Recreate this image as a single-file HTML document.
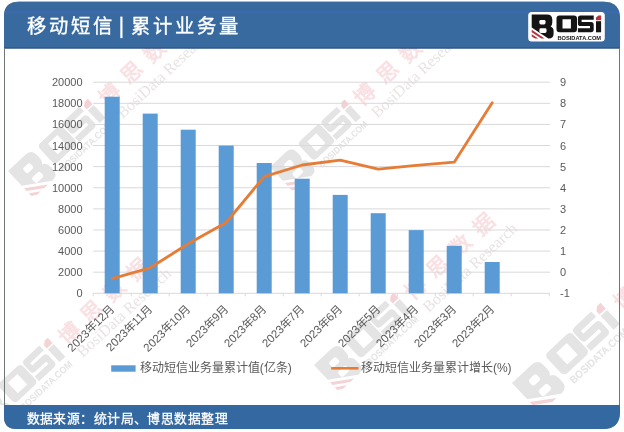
<!DOCTYPE html>
<html lang="zh-CN"><head><meta charset="utf-8">
<style>
html,body{margin:0;padding:0;background:#fff;width:624px;height:432px;overflow:hidden}
svg{position:absolute;left:0;top:0}
text{font-family:"Liberation Sans",sans-serif}
.ax{font-size:11px;fill:#595959}
.xl{font-size:11.5px;fill:#595959}
.lg{font-size:12px;fill:#595959}
.title{font-size:19.3px;fill:#fff;font-weight:500;letter-spacing:3.2px;stroke:#fff;stroke-width:0.35px}
.foot{font-size:12.8px;fill:#fff;font-weight:500;stroke:#fff;stroke-width:0.3px}
</style></head><body>
<svg width="624" height="432" viewBox="0 0 624 432">
<defs><clipPath id="inner"><rect x="0" y="48" width="624" height="357"/></clipPath></defs>
<path d="M4.5,16 Q4.5,2 18.5,2 L603.5,2 Q619.5,2 619.5,18 L619.5,412 Q619.5,428.5 603.5,428.5 L16,428.5 Q4.5,428.5 4.5,417 Z" fill="#FFFFFF" stroke="#6E7676" stroke-width="1"/>
<path d="M4,16 Q4,2 18.5,2 L603.5,2 Q620,2 620,18 L620,48.5 L4,48.5 Z" fill="#38699F"/>
<line x1="4" y1="48" x2="620" y2="48" stroke="#2B4F78" stroke-width="1"/>
<rect x="5" y="10.5" width="614" height="3.5" fill="#3B69AA"/>
<path d="M4,405 L620,405 L620,412 Q620,429 603.5,429 L16,429 Q4,429 4,417 Z" fill="#3468A0"/>
<text x="26.5" y="33" class="title">移动短信</text>
<rect x="120.3" y="16.6" width="2.2" height="21.5" fill="#fff"/>
<text x="130.5" y="33" class="title">累计业务量</text>
<text x="26.5" y="423" class="foot" textLength="201" lengthAdjust="spacing">数据来源：统计局、博思数据整理</text>
<rect x="528.2" y="12" width="76.6" height="29.5" rx="3.5" fill="#fff"/>
<path d="M531.7,14.6 H547 Q552.3,14.6 552.3,19.8 V22.6 Q552.3,25.4 550.6,26.4 Q553.6,27.6 553.6,31 V33.8 Q553.6,38.6 548.8,38.6 H548.3 L531.7,27.6 Z" fill="#141414"/>
<rect x="539.4" y="19.9" width="6.1" height="4.6" rx="1.4" fill="#fff"/><rect x="539.4" y="28.3" width="7.1" height="4.6" rx="1.4" fill="#fff"/>
<path d="M531.7,29.8 L544.6,38.6 H541.3 L531.7,32.2 Z M531.7,34.3 L538.3,38.6 H535 L531.7,36.6 Z" fill="#B8343F"/>
<path fill-rule="evenodd" d="M559.5,15.6 H574 Q577,15.6 577,18.6 V29.3 Q577,32.3 574,32.3 H559.5 Q556.5,32.3 556.5,29.3 V18.6 Q556.5,15.6 559.5,15.6 Z M562.5,19.3 V28.6 H570.9 V19.3 Z" fill="#141414"/>
<path d="M580.5,15.6 H593.7 V19.8 H581.6 V21.9 H591 Q593.7,21.9 593.7,24.6 V29.6 Q593.7,32.3 591,32.3 H577.9 V28.2 H590 V26.1 H580.6 Q577.9,26.1 577.9,23.4 V18.3 Q577.9,15.6 580.5,15.6 Z" fill="#141414"/>
<rect x="596" y="21.2" width="5.1" height="11.1" fill="#141414"/>
<path d="M596,17.6 L598.4,15.6 H601.1 V20.2 H596 Z" fill="#B8343F"/>
<text x="557.4" y="39.6" font-size="6.2" font-weight="bold" fill="#141414" textLength="43.7" lengthAdjust="spacingAndGlyphs">BOSIDATA.COM</text>
<g clip-path="url(#inner)" style="mix-blend-mode:multiply"><g transform="translate(8.0,171.0) rotate(-43)">
<g transform="scale(1.55) translate(-531.7,-14.6)">
<path d="M531.7,14.6 H547 Q552.3,14.6 552.3,19.8 V22.6 Q552.3,25.4 550.6,26.4 Q553.6,27.6 553.6,31 V33.8 Q553.6,38.6 548.8,38.6 H548.3 L531.7,27.6 Z" fill="#E4E4E4"/>
<rect x="539.4" y="19.9" width="6.1" height="4.6" rx="1.4" fill="#FFFFFF"/><rect x="539.4" y="28.3" width="7.1" height="4.6" rx="1.4" fill="#FFFFFF"/>
<path d="M531.7,29.8 L544.6,38.6 H541.3 L531.7,32.2 Z M531.7,34.3 L538.3,38.6 H535 L531.7,36.6 Z" fill="#F4D3D6"/>
<path fill-rule="evenodd" d="M559.5,15.6 H574 Q577,15.6 577,18.6 V29.3 Q577,32.3 574,32.3 H559.5 Q556.5,32.3 556.5,29.3 V18.6 Q556.5,15.6 559.5,15.6 Z M562.5,19.3 V28.6 H570.9 V19.3 Z" fill="#E4E4E4"/>
<path d="M580.5,15.6 H593.7 V19.8 H581.6 V21.9 H591 Q593.7,21.9 593.7,24.6 V29.6 Q593.7,32.3 591,32.3 H577.9 V28.2 H590 V26.1 H580.6 Q577.9,26.1 577.9,23.4 V18.3 Q577.9,15.6 580.5,15.6 Z" fill="#E4E4E4"/>
<rect x="596" y="21.2" width="5.1" height="11.1" fill="#E4E4E4"/>
<path d="M596,17.6 L598.4,15.6 H601.1 V20.2 H596 Z" fill="#F4D3D6"/>
<text x="557.4" y="39.6" font-size="6.2" font-weight="bold" fill="#E4E4E4" textLength="43.7" lengthAdjust="spacingAndGlyphs">BOSIDATA.COM</text>
</g>
<text x="116.2" y="20.2" font-size="21" font-weight="bold" fill="#F9E0E3" letter-spacing="10" style="font-family:'Liberation Serif',serif">博思数据</text>
<text x="119.4" y="40.3" font-size="16" fill="#E9E3E3" style="font-family:'Liberation Serif',serif">BosiData Research</text>
</g>
<g transform="translate(270.0,167.0) rotate(-43)">
<g transform="scale(1.45) translate(-531.7,-14.6)">
<path d="M531.7,14.6 H547 Q552.3,14.6 552.3,19.8 V22.6 Q552.3,25.4 550.6,26.4 Q553.6,27.6 553.6,31 V33.8 Q553.6,38.6 548.8,38.6 H548.3 L531.7,27.6 Z" fill="#E4E4E4"/>
<rect x="539.4" y="19.9" width="6.1" height="4.6" rx="1.4" fill="#FFFFFF"/><rect x="539.4" y="28.3" width="7.1" height="4.6" rx="1.4" fill="#FFFFFF"/>
<path d="M531.7,29.8 L544.6,38.6 H541.3 L531.7,32.2 Z M531.7,34.3 L538.3,38.6 H535 L531.7,36.6 Z" fill="#F4D3D6"/>
<path fill-rule="evenodd" d="M559.5,15.6 H574 Q577,15.6 577,18.6 V29.3 Q577,32.3 574,32.3 H559.5 Q556.5,32.3 556.5,29.3 V18.6 Q556.5,15.6 559.5,15.6 Z M562.5,19.3 V28.6 H570.9 V19.3 Z" fill="#E4E4E4"/>
<path d="M580.5,15.6 H593.7 V19.8 H581.6 V21.9 H591 Q593.7,21.9 593.7,24.6 V29.6 Q593.7,32.3 591,32.3 H577.9 V28.2 H590 V26.1 H580.6 Q577.9,26.1 577.9,23.4 V18.3 Q577.9,15.6 580.5,15.6 Z" fill="#E4E4E4"/>
<rect x="596" y="21.2" width="5.1" height="11.1" fill="#E4E4E4"/>
<path d="M596,17.6 L598.4,15.6 H601.1 V20.2 H596 Z" fill="#F4D3D6"/>
<text x="557.4" y="39.6" font-size="6.2" font-weight="bold" fill="#E4E4E4" textLength="43.7" lengthAdjust="spacingAndGlyphs">BOSIDATA.COM</text>
</g>
<text x="108.8" y="18.8" font-size="21" font-weight="bold" fill="#F9E0E3" letter-spacing="10" style="font-family:'Liberation Serif',serif">博思数据</text>
<text x="111.6" y="37.7" font-size="16" fill="#E9E3E3" style="font-family:'Liberation Serif',serif">BosiData Research</text>
</g>
<g transform="translate(-32.0,410.0) rotate(-43)">
<g transform="scale(1.55) translate(-531.7,-14.6)">
<path d="M531.7,14.6 H547 Q552.3,14.6 552.3,19.8 V22.6 Q552.3,25.4 550.6,26.4 Q553.6,27.6 553.6,31 V33.8 Q553.6,38.6 548.8,38.6 H548.3 L531.7,27.6 Z" fill="#E4E4E4"/>
<rect x="539.4" y="19.9" width="6.1" height="4.6" rx="1.4" fill="#FFFFFF"/><rect x="539.4" y="28.3" width="7.1" height="4.6" rx="1.4" fill="#FFFFFF"/>
<path d="M531.7,29.8 L544.6,38.6 H541.3 L531.7,32.2 Z M531.7,34.3 L538.3,38.6 H535 L531.7,36.6 Z" fill="#F4D3D6"/>
<path fill-rule="evenodd" d="M559.5,15.6 H574 Q577,15.6 577,18.6 V29.3 Q577,32.3 574,32.3 H559.5 Q556.5,32.3 556.5,29.3 V18.6 Q556.5,15.6 559.5,15.6 Z M562.5,19.3 V28.6 H570.9 V19.3 Z" fill="#E4E4E4"/>
<path d="M580.5,15.6 H593.7 V19.8 H581.6 V21.9 H591 Q593.7,21.9 593.7,24.6 V29.6 Q593.7,32.3 591,32.3 H577.9 V28.2 H590 V26.1 H580.6 Q577.9,26.1 577.9,23.4 V18.3 Q577.9,15.6 580.5,15.6 Z" fill="#E4E4E4"/>
<rect x="596" y="21.2" width="5.1" height="11.1" fill="#E4E4E4"/>
<path d="M596,17.6 L598.4,15.6 H601.1 V20.2 H596 Z" fill="#F4D3D6"/>
<text x="557.4" y="39.6" font-size="6.2" font-weight="bold" fill="#E4E4E4" textLength="43.7" lengthAdjust="spacingAndGlyphs">BOSIDATA.COM</text>
</g>
<text x="116.2" y="20.2" font-size="21" font-weight="bold" fill="#F9E0E3" letter-spacing="10" style="font-family:'Liberation Serif',serif">博思数据</text>
<text x="119.4" y="40.3" font-size="16" fill="#E9E3E3" style="font-family:'Liberation Serif',serif">BosiData Research</text>
</g>
<g transform="translate(314.0,365.0) rotate(-43)">
<g transform="scale(1.55) translate(-531.7,-14.6)">
<path d="M531.7,14.6 H547 Q552.3,14.6 552.3,19.8 V22.6 Q552.3,25.4 550.6,26.4 Q553.6,27.6 553.6,31 V33.8 Q553.6,38.6 548.8,38.6 H548.3 L531.7,27.6 Z" fill="#E4E4E4"/>
<rect x="539.4" y="19.9" width="6.1" height="4.6" rx="1.4" fill="#FFFFFF"/><rect x="539.4" y="28.3" width="7.1" height="4.6" rx="1.4" fill="#FFFFFF"/>
<path d="M531.7,29.8 L544.6,38.6 H541.3 L531.7,32.2 Z M531.7,34.3 L538.3,38.6 H535 L531.7,36.6 Z" fill="#F4D3D6"/>
<path fill-rule="evenodd" d="M559.5,15.6 H574 Q577,15.6 577,18.6 V29.3 Q577,32.3 574,32.3 H559.5 Q556.5,32.3 556.5,29.3 V18.6 Q556.5,15.6 559.5,15.6 Z M562.5,19.3 V28.6 H570.9 V19.3 Z" fill="#E4E4E4"/>
<path d="M580.5,15.6 H593.7 V19.8 H581.6 V21.9 H591 Q593.7,21.9 593.7,24.6 V29.6 Q593.7,32.3 591,32.3 H577.9 V28.2 H590 V26.1 H580.6 Q577.9,26.1 577.9,23.4 V18.3 Q577.9,15.6 580.5,15.6 Z" fill="#E4E4E4"/>
<rect x="596" y="21.2" width="5.1" height="11.1" fill="#E4E4E4"/>
<path d="M596,17.6 L598.4,15.6 H601.1 V20.2 H596 Z" fill="#F4D3D6"/>
<text x="557.4" y="39.6" font-size="6.2" font-weight="bold" fill="#E4E4E4" textLength="43.7" lengthAdjust="spacingAndGlyphs">BOSIDATA.COM</text>
</g>
<text x="116.2" y="20.2" font-size="21" font-weight="bold" fill="#F9E0E3" letter-spacing="10" style="font-family:'Liberation Serif',serif">博思数据</text>
<text x="119.4" y="40.3" font-size="16" fill="#E9E3E3" style="font-family:'Liberation Serif',serif">BosiData Research</text>
</g>
<g transform="translate(512.0,383.0) rotate(-43)">
<g transform="scale(1.72) translate(-531.7,-14.6)">
<path d="M531.7,14.6 H547 Q552.3,14.6 552.3,19.8 V22.6 Q552.3,25.4 550.6,26.4 Q553.6,27.6 553.6,31 V33.8 Q553.6,38.6 548.8,38.6 H548.3 L531.7,27.6 Z" fill="#E4E4E4"/>
<rect x="539.4" y="19.9" width="6.1" height="4.6" rx="1.4" fill="#FFFFFF"/><rect x="539.4" y="28.3" width="7.1" height="4.6" rx="1.4" fill="#FFFFFF"/>
<path d="M531.7,29.8 L544.6,38.6 H541.3 L531.7,32.2 Z M531.7,34.3 L538.3,38.6 H535 L531.7,36.6 Z" fill="#F4D3D6"/>
<path fill-rule="evenodd" d="M559.5,15.6 H574 Q577,15.6 577,18.6 V29.3 Q577,32.3 574,32.3 H559.5 Q556.5,32.3 556.5,29.3 V18.6 Q556.5,15.6 559.5,15.6 Z M562.5,19.3 V28.6 H570.9 V19.3 Z" fill="#E4E4E4"/>
<path d="M580.5,15.6 H593.7 V19.8 H581.6 V21.9 H591 Q593.7,21.9 593.7,24.6 V29.6 Q593.7,32.3 591,32.3 H577.9 V28.2 H590 V26.1 H580.6 Q577.9,26.1 577.9,23.4 V18.3 Q577.9,15.6 580.5,15.6 Z" fill="#E4E4E4"/>
<rect x="596" y="21.2" width="5.1" height="11.1" fill="#E4E4E4"/>
<path d="M596,17.6 L598.4,15.6 H601.1 V20.2 H596 Z" fill="#F4D3D6"/>
<text x="557.4" y="39.6" font-size="6.2" font-weight="bold" fill="#E4E4E4" textLength="43.7" lengthAdjust="spacingAndGlyphs">BOSIDATA.COM</text>
</g>
<text x="129.0" y="22.4" font-size="21" font-weight="bold" fill="#F9E0E3" letter-spacing="10" style="font-family:'Liberation Serif',serif">博思数据</text>
<text x="132.4" y="44.7" font-size="16" fill="#E9E3E3" style="font-family:'Liberation Serif',serif">BosiData Research</text>
</g></g>
<path d="M4.5,48 L4.5,405 M619.5,48 L619.5,405" stroke="#6E7676" stroke-width="1" fill="none"/>
<line x1="93.2" y1="82.20" x2="550.0" y2="82.20" stroke="#D9D9D9" stroke-width="1"/>
<line x1="93.2" y1="103.31" x2="550.0" y2="103.31" stroke="#D9D9D9" stroke-width="1"/>
<line x1="93.2" y1="124.42" x2="550.0" y2="124.42" stroke="#D9D9D9" stroke-width="1"/>
<line x1="93.2" y1="145.53" x2="550.0" y2="145.53" stroke="#D9D9D9" stroke-width="1"/>
<line x1="93.2" y1="166.64" x2="550.0" y2="166.64" stroke="#D9D9D9" stroke-width="1"/>
<line x1="93.2" y1="187.75" x2="550.0" y2="187.75" stroke="#D9D9D9" stroke-width="1"/>
<line x1="93.2" y1="208.86" x2="550.0" y2="208.86" stroke="#D9D9D9" stroke-width="1"/>
<line x1="93.2" y1="229.97" x2="550.0" y2="229.97" stroke="#D9D9D9" stroke-width="1"/>
<line x1="93.2" y1="251.08" x2="550.0" y2="251.08" stroke="#D9D9D9" stroke-width="1"/>
<line x1="93.2" y1="272.19" x2="550.0" y2="272.19" stroke="#D9D9D9" stroke-width="1"/>
<line x1="93.2" y1="293.30" x2="550.0" y2="293.30" stroke="#D9D9D9" stroke-width="1"/>
<line x1="93.2" y1="293.3" x2="93.2" y2="296.3" stroke="#D9D9D9" stroke-width="1"/>
<line x1="131.2" y1="293.3" x2="131.2" y2="296.3" stroke="#D9D9D9" stroke-width="1"/>
<line x1="169.2" y1="293.3" x2="169.2" y2="296.3" stroke="#D9D9D9" stroke-width="1"/>
<line x1="207.2" y1="293.3" x2="207.2" y2="296.3" stroke="#D9D9D9" stroke-width="1"/>
<line x1="245.2" y1="293.3" x2="245.2" y2="296.3" stroke="#D9D9D9" stroke-width="1"/>
<line x1="283.2" y1="293.3" x2="283.2" y2="296.3" stroke="#D9D9D9" stroke-width="1"/>
<line x1="321.2" y1="293.3" x2="321.2" y2="296.3" stroke="#D9D9D9" stroke-width="1"/>
<line x1="359.2" y1="293.3" x2="359.2" y2="296.3" stroke="#D9D9D9" stroke-width="1"/>
<line x1="397.2" y1="293.3" x2="397.2" y2="296.3" stroke="#D9D9D9" stroke-width="1"/>
<line x1="435.2" y1="293.3" x2="435.2" y2="296.3" stroke="#D9D9D9" stroke-width="1"/>
<line x1="473.2" y1="293.3" x2="473.2" y2="296.3" stroke="#D9D9D9" stroke-width="1"/>
<line x1="511.2" y1="293.3" x2="511.2" y2="296.3" stroke="#D9D9D9" stroke-width="1"/>
<line x1="549.2" y1="293.3" x2="549.2" y2="296.3" stroke="#D9D9D9" stroke-width="1"/>
<rect x="104.70" y="96.70" width="15.00" height="196.60" fill="#5B9BD5"/>
<rect x="142.70" y="113.60" width="15.00" height="179.70" fill="#5B9BD5"/>
<rect x="180.70" y="129.70" width="15.00" height="163.60" fill="#5B9BD5"/>
<rect x="218.70" y="145.60" width="15.00" height="147.70" fill="#5B9BD5"/>
<rect x="256.70" y="163.00" width="15.00" height="130.30" fill="#5B9BD5"/>
<rect x="294.70" y="178.70" width="15.00" height="114.60" fill="#5B9BD5"/>
<rect x="332.70" y="194.90" width="15.00" height="98.40" fill="#5B9BD5"/>
<rect x="370.70" y="213.20" width="15.00" height="80.10" fill="#5B9BD5"/>
<rect x="408.70" y="230.10" width="15.00" height="63.20" fill="#5B9BD5"/>
<rect x="446.70" y="245.80" width="15.00" height="47.50" fill="#5B9BD5"/>
<rect x="484.70" y="262.00" width="15.00" height="31.30" fill="#5B9BD5"/>
<polyline points="112.20,278.70 150.20,267.80 188.20,243.80 226.20,222.50 264.20,176.60 302.20,165.00 340.20,160.20 378.20,169.10 416.20,165.40 454.20,162.20 492.20,102.80" fill="none" stroke="#E67C35" stroke-width="2.8" stroke-linejoin="round" stroke-linecap="round"/>
<text x="82.6" y="86.20" text-anchor="end" class="ax">20000</text>
<text x="82.6" y="107.31" text-anchor="end" class="ax">18000</text>
<text x="82.6" y="128.42" text-anchor="end" class="ax">16000</text>
<text x="82.6" y="149.53" text-anchor="end" class="ax">14000</text>
<text x="82.6" y="170.64" text-anchor="end" class="ax">12000</text>
<text x="82.6" y="191.75" text-anchor="end" class="ax">10000</text>
<text x="82.6" y="212.86" text-anchor="end" class="ax">8000</text>
<text x="82.6" y="233.97" text-anchor="end" class="ax">6000</text>
<text x="82.6" y="255.08" text-anchor="end" class="ax">4000</text>
<text x="82.6" y="276.19" text-anchor="end" class="ax">2000</text>
<text x="82.6" y="297.30" text-anchor="end" class="ax">0</text>
<text x="560" y="86.20" class="ax">9</text>
<text x="560" y="107.31" class="ax">8</text>
<text x="560" y="128.42" class="ax">7</text>
<text x="560" y="149.53" class="ax">6</text>
<text x="560" y="170.64" class="ax">5</text>
<text x="560" y="191.75" class="ax">4</text>
<text x="560" y="212.86" class="ax">3</text>
<text x="560" y="233.97" class="ax">2</text>
<text x="560" y="255.08" class="ax">1</text>
<text x="560" y="276.19" class="ax">0</text>
<text x="560" y="297.30" class="ax">-1</text>
<text transform="translate(114.80,309.8) rotate(-45)" text-anchor="end" class="xl">2023年12月</text>
<text transform="translate(152.80,309.8) rotate(-45)" text-anchor="end" class="xl">2023年11月</text>
<text transform="translate(190.80,309.8) rotate(-45)" text-anchor="end" class="xl">2023年10月</text>
<text transform="translate(228.80,309.8) rotate(-45)" text-anchor="end" class="xl">2023年9月</text>
<text transform="translate(266.80,309.8) rotate(-45)" text-anchor="end" class="xl">2023年8月</text>
<text transform="translate(304.80,309.8) rotate(-45)" text-anchor="end" class="xl">2023年7月</text>
<text transform="translate(342.80,309.8) rotate(-45)" text-anchor="end" class="xl">2023年6月</text>
<text transform="translate(380.80,309.8) rotate(-45)" text-anchor="end" class="xl">2023年5月</text>
<text transform="translate(418.80,309.8) rotate(-45)" text-anchor="end" class="xl">2023年4月</text>
<text transform="translate(456.80,309.8) rotate(-45)" text-anchor="end" class="xl">2023年3月</text>
<text transform="translate(494.80,309.8) rotate(-45)" text-anchor="end" class="xl">2023年2月</text>
<rect x="111.2" y="365.3" width="24.4" height="6.4" fill="#5B9BD5"/>
<text x="139.7" y="371.5" class="lg">移动短信业务量累计值(亿条)</text>
<line x1="331.2" y1="368.3" x2="358.5" y2="368.3" stroke="#E67C35" stroke-width="2.6"/>
<text x="360.9" y="371.5" class="lg">移动短信业务量累计增长(%)</text>
</svg>
</body></html>
